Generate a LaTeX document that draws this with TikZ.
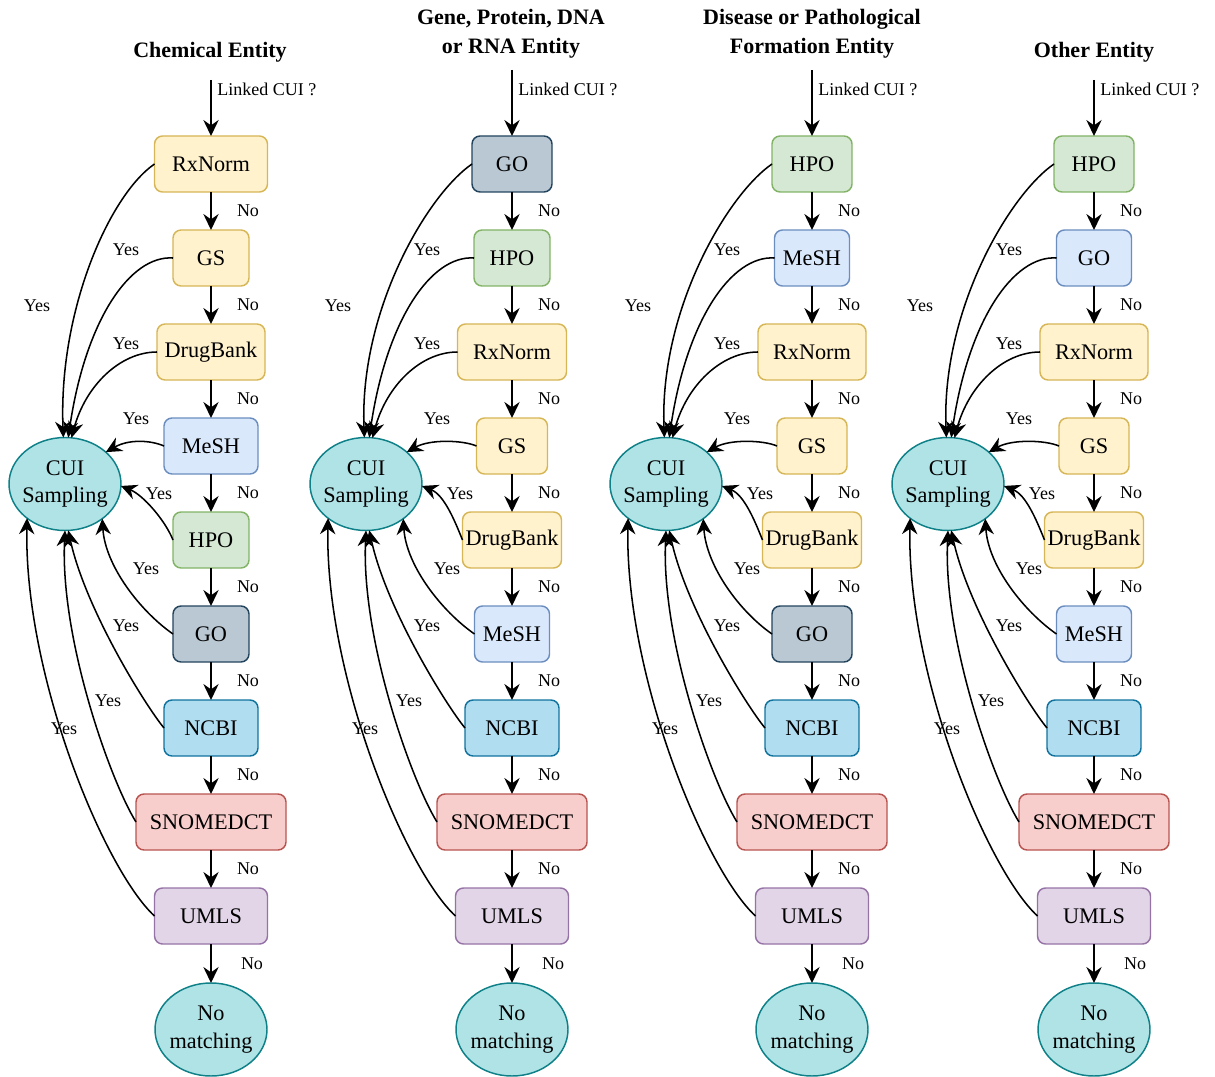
\documentclass[tikz,border=0pt]{standalone}
\usepackage{fontspec}
\setmainfont{Liberation Serif}
\usetikzlibrary{arrows.meta,shapes.geometric}
\definecolor{yelF}{HTML}{FFF2CC}\definecolor{yelD}{HTML}{D6B656}
\definecolor{bluF}{HTML}{DAE8FC}\definecolor{bluD}{HTML}{6C8EBF}
\definecolor{grnF}{HTML}{D5E8D4}\definecolor{grnD}{HTML}{82B366}
\definecolor{gryF}{HTML}{BAC8D3}\definecolor{gryD}{HTML}{23445D}
\definecolor{ncbF}{HTML}{B1DDF0}\definecolor{ncbD}{HTML}{10739E}
\definecolor{redF}{HTML}{F8CECC}\definecolor{redD}{HTML}{B85450}
\definecolor{purF}{HTML}{E1D5E7}\definecolor{purD}{HTML}{9673A6}
\definecolor{teaF}{HTML}{B0E3E6}\definecolor{teaD}{HTML}{0E8088}
\tikzset{
  box/.style={draw, rounded corners=6pt, line width=1.1pt, minimum height=56*0.75pt,
    inner sep=0pt, outer sep=0pt, font=\fontsize{16.7}{20}\selectfont},
  yel/.style={fill=yelF, draw=yelD},
  blu/.style={fill=bluF, draw=bluD},
  grn/.style={fill=grnF, draw=grnD},
  gry/.style={fill=gryF, draw=gryD},
  ncb/.style={fill=ncbF, draw=ncbD},
  red/.style={fill=redF, draw=redD},
  pur/.style={fill=purF, draw=purD},
  cuinode/.style={ellipse, draw=teaD, fill=teaF, line width=1.1pt, minimum width=112*0.75pt,
    minimum height=93*0.75pt, inner sep=-2.5pt, outer sep=0pt, align=center,
    font=\fontsize{16.7}{20.5}\selectfont},
  ttl/.style={font=\fontsize{16.5}{22}\selectfont\bfseries, align=center},
  lbl/.style={font=\fontsize{13.5}{15}\selectfont, inner sep=0pt},
  flow/.style={-{Stealth[length=12pt,width=11.5pt,inset=4pt]}, line width=1.15pt},
}
% #1 prefix, #2 column centre x, #3 box list, #4 top of entry line
\newcommand\entcol[4]{%
  \foreach \bi/\btxt/\bsty/\bw in {#3} {
    \node[box,\bsty,minimum width=\bw*0.75pt] (#1\bi) at (#2,{164+94*\bi}) {\btxt};
  }
  \node[cuinode] (#1cui) at ({#2-146},484) {CUI\\Sampling};
  \node[cuinode] (#1nm) at (#2,1029.5) {No\\matching};
  \coordinate (#1top) at (#2,#4);
  \draw[flow] (#1top) -- (#10);
  \node[lbl,anchor=west] (#1lc) at ({#2+6},89) {Linked CUI ?};
  \foreach \ni [evaluate=\ni as \nj using int(\ni+1)] in {0,...,7} {
    \draw[flow] (#1\ni) -- (#1\nj);
    \node[lbl] (#1no\ni) at ({#2+37},{211+94*\ni}) {No};
  }
  \draw[flow] (#18) -- (#1nm);
  \node[lbl] (#1no8) at ({#2+41},964) {No};
  \foreach \yi/\yax/\yay/\ybx/\yby/\yang/\ylx/\yly in {
      0/-45/31/-5/-127/92/-174/306,
      1/-43/-3/17/-117/86/-85/250,
      2/-37/0/14/-52/82/-85/344,
      3/-14/-6/23/-13/38/-75/419,
      4/-8/-20/22/9/358/-52/494,
      5/-33/-23/3/47/317/-65/569,
      6/-19/-23/17/78/274/-85/626,
      7/-26/-42/-5/108/270/-103/701,
      8/-50/-46/-3/158/222/-147/729} {
    \draw[flow] (#1\yi.west) .. controls +(\yax,\yay) and +(\ybx,\yby) .. (#1cui.\yang);
    \node[lbl] (#1yes\yi) at ({#2+\ylx},\yly) {Yes};
  }
}
\begin{document}
\begin{tikzpicture}[x=0.75pt,y=-0.75pt]
\useasboundingbox (0,0) rectangle (1215,1077);
\node[ttl] (t1) at (210,52) {Chemical Entity};
\node[ttl] (t2) at (511,33.5) {Gene, Protein, DNA\\or RNA Entity};
\node[ttl] (t3) at (812,33.5) {Disease or Pathological\\Formation Entity};
\node[ttl] (t4) at (1094,52) {Other Entity};
\entcol{a}{211}{0/RxNorm/yel/113, 1/GS/yel/76, 2/DrugBank/yel/108, 3/MeSH/blu/94, 4/HPO/grn/76, 5/GO/gry/76, 6/NCBI/ncb/94, 7/SNOMEDCT/red/150, 8/UMLS/pur/113}{80}
\entcol{b}{512}{0/GO/gry/80, 1/HPO/grn/76, 2/RxNorm/yel/109, 3/GS/yel/71, 4/DrugBank/yel/99, 5/MeSH/blu/75, 6/NCBI/ncb/94, 7/SNOMEDCT/red/150, 8/UMLS/pur/113}{70}
\entcol{c}{812}{0/HPO/grn/80, 1/MeSH/blu/75, 2/RxNorm/yel/108, 3/GS/yel/70, 4/DrugBank/yel/99, 5/GO/gry/80, 6/NCBI/ncb/94, 7/SNOMEDCT/red/150, 8/UMLS/pur/113}{70}
\entcol{d}{1094}{0/HPO/grn/80, 1/GO/blu/75, 2/RxNorm/yel/108, 3/GS/yel/70, 4/DrugBank/yel/99, 5/MeSH/blu/75, 6/NCBI/ncb/94, 7/SNOMEDCT/red/150, 8/UMLS/pur/113}{80}
\end{tikzpicture}
\end{document}
